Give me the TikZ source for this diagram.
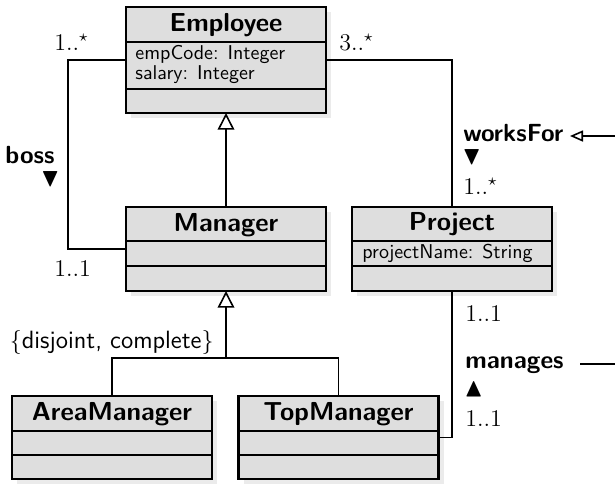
\documentclass[tikz,border=0pt]{standalone}
\usepackage{fontspec}
\usepackage{amssymb}
\usetikzlibrary{arrows.meta,shadows,calc}
\begin{document}
\begin{tikzpicture}[x=0.5pt,y=-0.5pt,
  classbox/.style={draw, line width=1.1pt, fill=black!13, inner sep=0pt, outer sep=0pt,
    anchor=north west, minimum width=100pt,
    drop shadow={shadow xshift=2.5pt, shadow yshift=-2.5pt, fill=black!8, opacity=1}},
  sepline/.style={line width=1.1pt},
  cname/.style={font=\fontsize{13}{15}\selectfont\sffamily\bfseries, inner sep=0pt, anchor=base},
  attr/.style={font=\fontsize{10}{12}\selectfont\sffamily, inner sep=0pt, anchor=base west},
  mult/.style={font=\fontsize{12}{14}\selectfont\rmfamily, inner sep=0pt, anchor=base west},
  alabel/.style={font=\fontsize{12.4}{15}\selectfont\sffamily\bfseries, inner sep=0pt, anchor=base west},
  dirmark/.style={font=\fontsize{13}{15}\selectfont, inner sep=0pt, anchor=base west},
  conn/.style={line width=0.8pt},
  gen/.style={-{Triangle[open, length=8.3pt, width=8.3pt, fill=white]}},
]
\useasboundingbox (0,0) rectangle (615,483);

% classes
\node[classbox, minimum height=53pt] (emp) at (126,7) {};
\node[classbox, minimum height=42pt] (mgr) at (126,207) {};
\node[classbox, minimum height=42pt] (proj) at (352,207) {};
\node[classbox, minimum height=41.5pt] (area) at (12,396) {};
\node[classbox, minimum height=41.5pt] (top) at (238.5,396) {};

% compartments
\draw[sepline] ($(emp.north west)+(0,35)$) -- ($(emp.north east)+(0,35)$);
\draw[sepline] ($(emp.north west)+(0,82)$) -- ($(emp.north east)+(0,82)$);
\draw[sepline] ($(mgr.north west)+(0,34)$) -- ($(mgr.north east)+(0,34)$);
\draw[sepline] ($(mgr.north west)+(0,59)$) -- ($(mgr.north east)+(0,59)$);
\draw[sepline] ($(proj.north west)+(0,34)$) -- ($(proj.north east)+(0,34)$);
\draw[sepline] ($(proj.north west)+(0,59)$) -- ($(proj.north east)+(0,59)$);
\draw[sepline] ($(area.north west)+(0,35)$) -- ($(area.north east)+(0,35)$);
\draw[sepline] ($(area.north west)+(0,59)$) -- ($(area.north east)+(0,59)$);
\draw[sepline] ($(top.north west)+(0,35)$) -- ($(top.north east)+(0,35)$);
\draw[sepline] ($(top.north west)+(0,59)$) -- ($(top.north east)+(0,59)$);

% names and attributes
\node[cname] (empn) at ($(emp.north)+(0,24.7)$) {Employee};
\node[cname] (mgrn) at ($(mgr.north)+(0,24)$) {Manager};
\node[cname] (projn) at ($(proj.north)+(0,23.5)$) {Project};
\node[cname] (arean) at ($(area.north)+(0,24)$) {AreaManager};
\node[cname] (topn) at ($(top.north)+(0,24)$) {TopManager};
\node[attr] (emp1) at (135,59) {empCode: Integer};
\node[attr] (emp2) at (135,79.5) {salary: Integer};
\node[attr] (proj1) at (362,258) {projectName: String};

% generalizations
\draw[conn,gen] (mgr.north) -- (emp.south);
\coordinate (gj) at ($(mgr.south)+(0,67)$);
\draw[conn,gen] (gj) -- (mgr.south);
\draw[conn] (area.north) |- (gj) -| (top.north);
\node[font=\fontsize{12.5}{14}\selectfont\sffamily, inner sep=0pt, anchor=base east] (dc) at (214,348) {$\{$disjoint, complete$\}$};

% boss
\coordinate (bt) at (68,60);
\coordinate (bb) at (68,249);
\draw[conn] (emp.west |- bt) -- (bt) -- (bb) -- (mgr.west |- bb);
\node[mult] (m1) at (54,50) {1..$^\star$};
\node[mult] (m3) at (54,276) {1..1};
\node[alabel] (boss) at (5,163.3) {boss};
\node[dirmark] (bossd) at (40.5,186) {$\blacktriangledown$};

% worksFor
\coordinate (wy) at (0,60);
\draw[conn] (emp.east |- wy) -| (proj.north);
\node[mult] (m2) at (339,50) {3..$^\star$};
\node[mult] (m4) at (463,194) {1..$^\star$};
\node[alabel] (wf) at (463,141.7) {worksFor};
\node[dirmark] (wfd) at (462,164.5) {$\blacktriangledown$};
\coordinate (wfe) at (615,136);
\coordinate (wft) at (570,136);
\draw[conn, -{Triangle[open, length=6.5pt, width=5.5pt]}] (wfe) -- (wft);

% manages
\draw[conn] (proj.south) |- (top.east);
\node[mult] (m5) at (465,321) {1..1};
\node[mult] (m6) at (465,426.5) {1..1};
\node[alabel] (mg) at (465,368) {manages};
\node[dirmark] (mgd) at (464,396) {$\blacktriangle$};
\coordinate (mge) at (615,364);
\coordinate (mgs) at (580,364);
\draw[conn] (mgs) -- (mge);
\end{tikzpicture}
\end{document}
